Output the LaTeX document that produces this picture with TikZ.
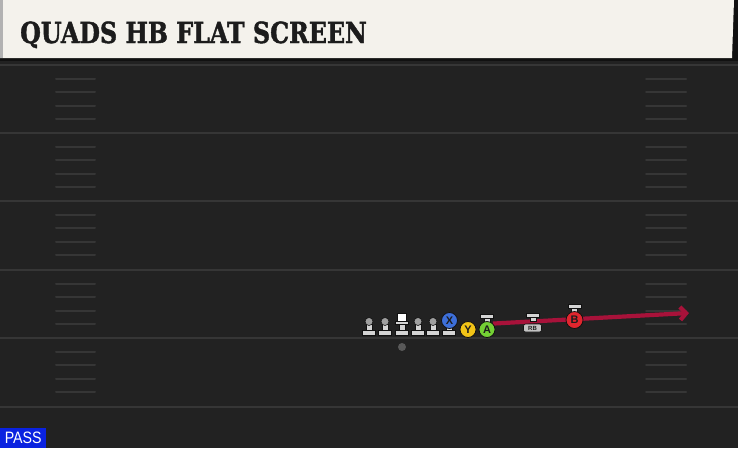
\documentclass[tikz,border=0pt]{standalone}
\usepackage{fontspec}
\usepackage{graphicx}
\setsansfont{Liberation Sans}
\newfontfamily\titlefont[FakeBold=1.6]{DejaVu Serif Bold}
\usetikzlibrary{arrows.meta}
\definecolor{field}{HTML}{222222}
\definecolor{yardline}{HTML}{363636}
\definecolor{hashline}{HTML}{363636}
\definecolor{paper}{HTML}{F4F2EC}
\definecolor{ink}{HTML}{1C1C1C}
\definecolor{routered}{HTML}{A8123A}
\definecolor{xblue}{HTML}{3D6FD9}
\definecolor{yyellow}{HTML}{F2C417}
\definecolor{agreen}{HTML}{74D034}
\definecolor{bred}{HTML}{E0262E}
\definecolor{passblue}{HTML}{0A22E0}
\definecolor{lite}{HTML}{D4D4D4}
\definecolor{edge}{HTML}{111111}
\pgfdeclarelayer{background}
\pgfdeclarelayer{route}
\pgfsetlayers{background,route,main}
\tikzset{
  stand/.pic={
    \filldraw[fill=lite,draw=edge,line width=.6pt] (-6.5,0) rectangle (6.5,-4.5);
    \filldraw[fill=lite,draw=edge,line width=.6pt] (-3,-4.5) rectangle (3,-11);
  },
  cap/.pic={
    \filldraw[fill=lite,draw=edge,line width=.6pt] (-6.5,0) rectangle (6.5,4);
    \filldraw[fill=lite,draw=edge,line width=.6pt] (-3,4) rectangle (3,8);
  },
  pawn/.pic={
    \path pic {stand};
    \node[head] (-h) at (0,-13.5) {};
  },
  snapper/.pic={
    \path pic {stand};
    \filldraw[fill=lite,draw=edge,line width=.6pt] (-6.5,-11) rectangle (6.5,-14);
    \node[square] (-h) at (0,-18) {};
  }
}
\begin{document}
\begin{tikzpicture}[x=1pt,y=-1pt,
    head/.style={circle,fill=gray!75,draw=edge,line width=.6pt,minimum size=8pt,inner sep=0pt},
    square/.style={rectangle,fill=white,draw=edge,line width=.6pt,minimum width=9pt,minimum height=8pt,inner sep=0pt},
    player/.style={circle,draw=edge,line width=.8pt,minimum size=16pt,inner sep=0pt,
      font=\fontsize{11}{11}\sffamily\bfseries,text=ink},
    badge/.style={rectangle,rounded corners=2pt,fill=lite!80!gray,draw=edge,line width=.6pt,
      minimum width=18pt,minimum height=8pt,inner sep=0pt,font=\fontsize{6}{6}\sffamily\bfseries,text=ink},
    route/.style={routered,line width=4.2pt,-{Straight Barb[length=6pt,width=13pt]}},
    hash/.style={hashline,line width=2pt,line cap=round}]
  \useasboundingbox (0,0) rectangle (738,448);
  % field
  \begin{pgfonlayer}{background}
    \fill[field] (0,0) rectangle (738,448);
    \foreach \y in {65,133,201,270,338,407}
      \draw[yardline,line width=2pt] (0,\y) -- (738,\y);
    \foreach \y in {65,133,201,270,338}
      \foreach \k in {1,2,3,4} {
        \draw[hash] (56,\y+\k*13.6) -- (95,\y+\k*13.6);
        \draw[hash] (646,\y+\k*13.6) -- (686,\y+\k*13.6);
      }
  \end{pgfonlayer}
  % header
  \fill[edge] (0,0) rectangle (738,61);
  \fill[paper] (0,0) -- (734,0) -- (732,58) -- (0,58) -- cycle;
  \fill[gray!60] (0,0) rectangle (3,58);
  \node[anchor=base west,inner sep=0pt,text=ink,font=\fontsize{29}{29}\titlefont] (title)
    at (20,43) {\scalebox{0.82}[1]{QUADS HB FLAT SCREEN}};
  % line
  \path (369,335) pic (LT) {pawn}
        (385,335) pic (LG) {pawn}
        (402,335) pic (C) {snapper}
        (418,335) pic (RG) {pawn}
        (433,335) pic (RT) {pawn};
  \node[circle,fill=gray!70!black,minimum size=8pt,inner sep=0pt] (ball) at (402,347) {};
  % skill players
  \path (449,335) pic {stand};
  \node[player,fill=xblue] (X) at (449.5,320.5) {X};
  \node[player,fill=yyellow] (Y) at (468,329.5) {Y};
  \path (487,314) pic {cap};
  \node[player,fill=agreen] (A) at (487,329.5) {A};
  \path (533,313) pic {cap};
  \node[badge] (RB) at (532.5,328) {RB};
  \path (574.5,304) pic {cap};
  \node[player,fill=bred,minimum size=17pt] (B) at (574.5,320) {B};
  \coordinate (tip) at (689,313);
  \begin{pgfonlayer}{route}
    \draw[route] (A.north east) -- (tip);
  \end{pgfonlayer}
  % play type
  \node[anchor=south west,fill=passblue,text=white,inner sep=0pt,minimum width=46pt,minimum height=20pt,
    font=\fontsize{16.5}{16.5}\sffamily] (pass) at (0,448) {\scalebox{0.86}[1]{PASS}};
\end{tikzpicture}
\end{document}
